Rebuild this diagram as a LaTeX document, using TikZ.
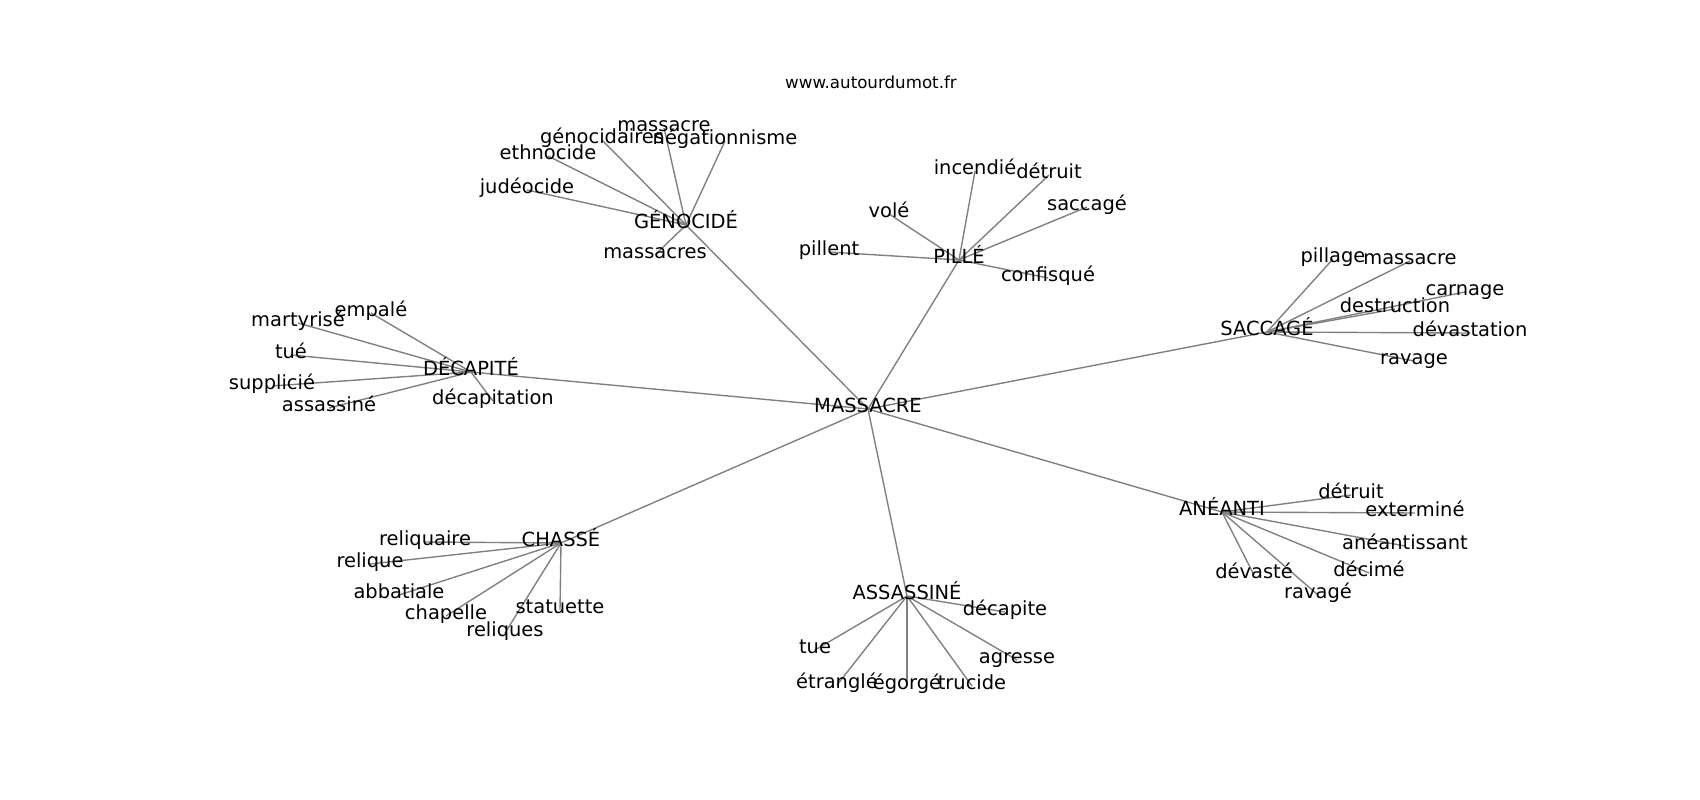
\documentclass[tikz,border=0pt]{standalone}
\usepackage{fontspec}
\setmainfont{DejaVu Sans}
\pgfdeclarelayer{background}
\pgfsetlayers{background,main}
\tikzset{
  lbl/.style={font=\fontsize{14bp}{16bp}\selectfont, inner sep=0pt, text height=0.76em, text depth=0.236em, anchor=center, text=black},
  ttl/.style={font=\fontsize{12bp}{14bp}\selectfont, inner sep=0pt, anchor=base, text=black},
  edge/.style={draw={rgb,255:red,128;green,128;blue,128}, line width=1bp}
}
\begin{document}
\begin{tikzpicture}[x=0.01in, y=-0.01in]
\useasboundingbox (0,0) rectangle (1700,800);
\node[ttl] (title) at (871,89) {www.autourdumot.fr};
\begin{scope}[shift={(0,3)}]
% hubs
\node[lbl] (m) at (868,406) {MASSACRE};
\node[lbl] (gen) at (686,222) {GÉNOCIDÉ};
\node[lbl] (pil) at (959,257) {PILLÉ};
\node[lbl] (sac) at (1267,329) {SACCAGÉ};
\node[lbl] (dec) at (471,369) {DÉCAPITÉ};
\node[lbl] (cha) at (561,540) {CHASSÉ};
\node[lbl] (ass) at (907,593) {ASSASSINÉ};
\node[lbl] (ane) at (1222,509) {ANÉANTI};
% génocidé leaves
\node[lbl] (g1) at (664,125) {massacre};
\node[lbl] (g2) at (602,137) {génocidaires};
\node[lbl] (g3) at (725,138) {négationnisme};
\node[lbl] (g4) at (548,153) {ethnocide};
\node[lbl] (g5) at (527,187) {judéocide};
\node[lbl] (g6) at (655,252) {massacres};
% pillé leaves
\node[lbl] (p1) at (975,168) {incendié};
\node[lbl] (p2) at (1049,172) {détruit};
\node[lbl] (p3) at (889,211) {volé};
\node[lbl] (p4) at (1087,204) {saccagé};
\node[lbl] (p5) at (829,249) {pillent};
\node[lbl] (p6) at (1048,275) {confisqué};
% saccagé leaves
\node[lbl] (s1) at (1333,256) {pillage};
\node[lbl] (s2) at (1410,258) {massacre};
\node[lbl] (s3) at (1465,289) {carnage};
\node[lbl] (s4) at (1395,306) {destruction};
\node[lbl] (s5) at (1470,330) {dévastation};
\node[lbl] (s6) at (1414,358) {ravage};
% décapité leaves
\node[lbl] (d1) at (371,310) {empalé};
\node[lbl] (d2) at (298,320) {martyrisé};
\node[lbl] (d3) at (291,352) {tué};
\node[lbl] (d4) at (272,383) {supplicié};
\node[lbl] (d5) at (329,405) {assassiné};
\node[lbl] (d6) at (493,398) {décapitation};
% chassé leaves
\node[lbl] (c1) at (425,539) {reliquaire};
\node[lbl] (c2) at (370,561) {relique};
\node[lbl] (c3) at (399,592) {abbatiale};
\node[lbl] (c4) at (446,613) {chapelle};
\node[lbl] (c5) at (560,607) {statuette};
\node[lbl] (c6) at (505,630) {reliques};
% assassiné leaves
\node[lbl] (a1) at (1005,609) {décapite};
\node[lbl] (a2) at (815,647) {tue};
\node[lbl] (a3) at (1017,657) {agresse};
\node[lbl] (a4) at (837,682) {étranglé};
\node[lbl] (a5) at (907,683) {égorgé};
\node[lbl] (a6) at (972,683) {trucide};
% anéanti leaves
\node[lbl] (n1) at (1351,492) {détruit};
\node[lbl] (n2) at (1415,510) {exterminé};
\node[lbl] (n3) at (1405,543) {anéantissant};
\node[lbl] (n4) at (1369,570) {décimé};
\node[lbl] (n5) at (1254,572) {dévasté};
\node[lbl] (n6) at (1318,592) {ravagé};
\end{scope}
\begin{pgfonlayer}{background}
\foreach \h in {gen,pil,sac,dec,cha,ass,ane} \draw[edge] (m.center) -- (\h.center);
\foreach \l in {g1,g2,g3,g4,g5,g6} \draw[edge] (gen.center) -- (\l.center);
\foreach \l in {p1,p2,p3,p4,p5,p6} \draw[edge] (pil.center) -- (\l.center);
\foreach \l in {s1,s2,s3,s4,s5,s6} \draw[edge] (sac.center) -- (\l.center);
\foreach \l in {d1,d2,d3,d4,d5,d6} \draw[edge] (dec.center) -- (\l.center);
\foreach \l in {c1,c2,c3,c4,c5,c6} \draw[edge] (cha.center) -- (\l.center);
\foreach \l in {a1,a2,a3,a4,a5,a6} \draw[edge] (ass.center) -- (\l.center);
\foreach \l in {n1,n2,n3,n4,n5,n6} \draw[edge] (ane.center) -- (\l.center);
\end{pgfonlayer}
\end{tikzpicture}
\end{document}
